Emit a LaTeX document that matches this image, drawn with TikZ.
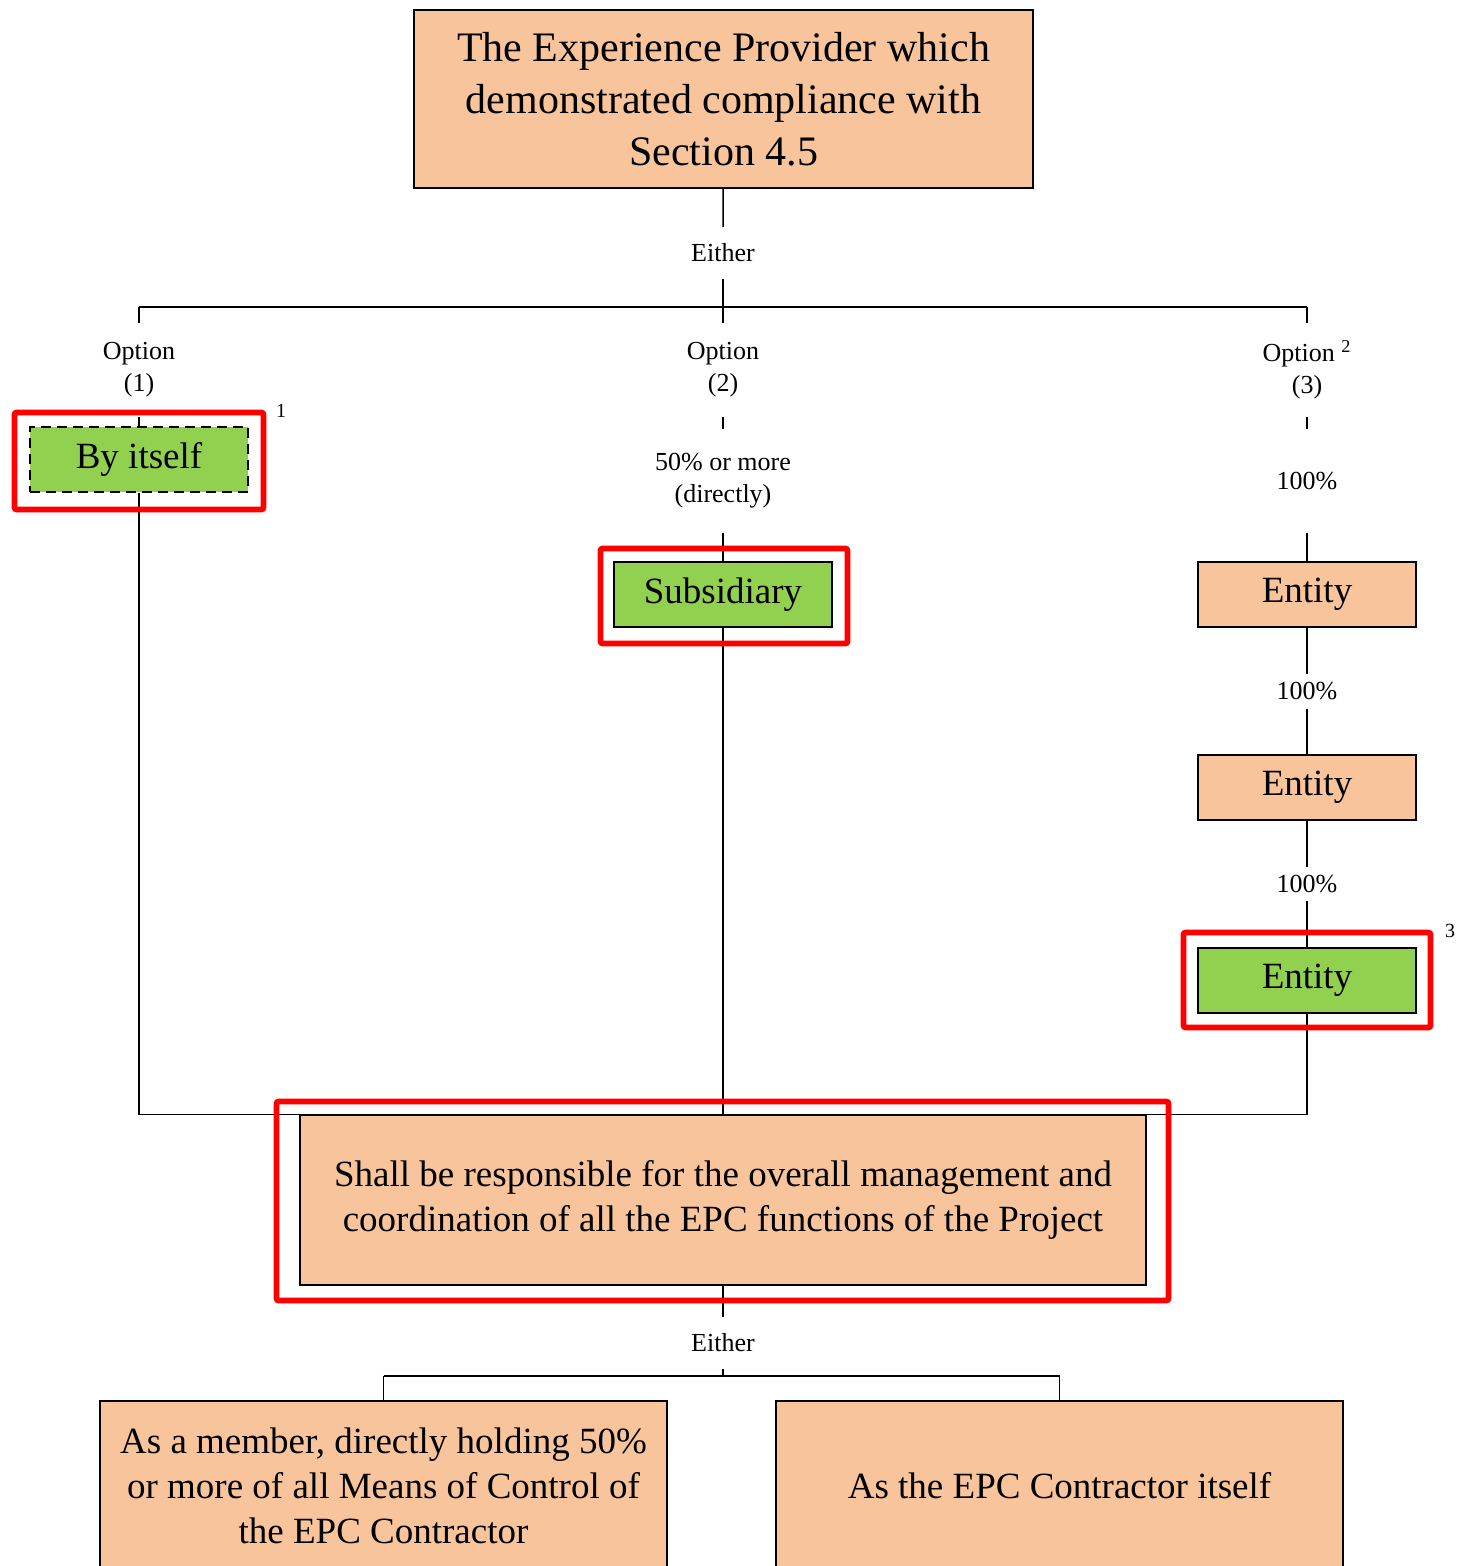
\documentclass[tikz,border=0pt]{standalone}
\usepackage{fontspec}
\usepackage{tikz}
\setmainfont{Liberation Serif}
\definecolor{peach}{RGB}{248,196,156}
\definecolor{leaf}{RGB}{146,208,80}

\begin{document}
\begin{tikzpicture}
    [x=0.5pt,y=-0.5pt,line width=0.75pt,
     every node/.style={inner sep=0pt,align=center},
     box/.style={draw,fill=peach,font=\fontsize{18.5}{22.5}\selectfont},
     cell/.style={box,minimum width=109pt,minimum height=32.5pt},
     greencell/.style={cell,fill=leaf},
     tag/.style={font=\fontsize{13}{16}\selectfont},
     note/.style={font=\fontsize{10}{11}\selectfont},
     hilite/.style={draw=red,line width=2.8pt,rounded corners=1pt}]
    \useasboundingbox (0,0) rectangle (1472,1566);
    \clip (0,0) rectangle (1472,1566);

    \node[box,minimum width=309.5pt,minimum height=89pt,font=\fontsize{21}{26}\selectfont]
        (top) at (723.5,99) {The Experience Provider which\\demonstrated compliance with\\Section 4.5};
    \node[tag,minimum height=25pt] (either1) at (723,253) {Either};
    \coordinate (j1) at (723,307);
    \coordinate (l1) at (139,307);
    \coordinate (r1) at (1307,307);

    \node[tag,minimum height=46.5pt] (opt1) at (139,370) {Option\\(1)};
    \node[tag,minimum height=46.5pt] (opt2) at (723,370) {Option\\(2)};
    \node[tag,minimum height=46.5pt] (opt3) at (1307,370) {Option \textsuperscript{2}\\(3)};

    \node[greencell,dashed,dash pattern=on 5pt off 3pt] (self) at (139,459.5) {By itself};
    \node[tag,minimum height=51pt] (pct2) at (723,481) {50\% or more\\(directly)};
    \node[greencell] (sub) at (723,594.5) {Subsidiary};

    \node[tag,minimum height=51pt] (pct3a) at (1307,481) {100\%};
    \node[cell] (ent1) at (1307,594.5) {Entity};
    \node[tag,minimum height=16.5pt] (pct3b) at (1307,691.5) {100\%};
    \node[cell] (ent2) at (1307,787.5) {Entity};
    \node[tag,minimum height=16.5pt] (pct3c) at (1307,884) {100\%};
    \node[greencell] (ent3) at (1307,980.5) {Entity};

    \node[note] (fn1) at (281,411) {1};
    \node[note] (fn3) at (1450,931) {3};

    \node[box,minimum width=423pt,minimum height=85pt] (main) at (723,1200)
        {Shall be responsible for the overall management and\\coordination of all the EPC functions of the Project};
    \node[tag,minimum height=25pt] (either2) at (723,1343) {Either};
    \coordinate (j2) at (723,1376);
    \coordinate (l2) at (383.5,1376);
    \coordinate (r2) at (1059.5,1376);

    \node[box,minimum width=283.5pt,minimum height=85pt] (memb) at (383.5,1486)
        {As a member, directly holding 50\%\\or more of all Means of Control of\\the EPC Contractor};
    \node[box,minimum width=283.5pt,minimum height=85pt] (itself) at (1059.5,1486)
        {As the EPC Contractor itself};

    \draw (top) -- (either1);
    \draw (either1) -- (j1);
    \draw (l1) -- (r1);
    \foreach \from/\to in {l1/opt1,opt1/self,j1/opt2,opt2/pct2,pct2/sub,r1/opt3,opt3/pct3a,pct3a/ent1,ent1/pct3b,pct3b/ent2,ent2/pct3c,pct3c/ent3,sub/main,main/either2,either2/j2}
    \draw (\from) -- (\to);
    \draw (self) |- (main.north west);
    \draw (ent3) |- (main.north east);
    \draw (l2) -- (r2);
    \foreach \from/\to in {l2/memb,r2/itself} \draw (\from) -- (\to);

    % red frames
    \node[hilite,minimum width=124.5pt,minimum height=48.5pt] (hl1) at (139,461) {};
    \node[hilite,minimum width=123.5pt,minimum height=47.5pt] (hl2) at (724,596) {};
    \node[hilite,minimum width=123.5pt,minimum height=47.5pt] (hl3) at (1307,980) {};
    \node[hilite,minimum width=446pt,minimum height=99.5pt] (hl4) at (722.5,1201) {};
\end{tikzpicture}
\end{document}
